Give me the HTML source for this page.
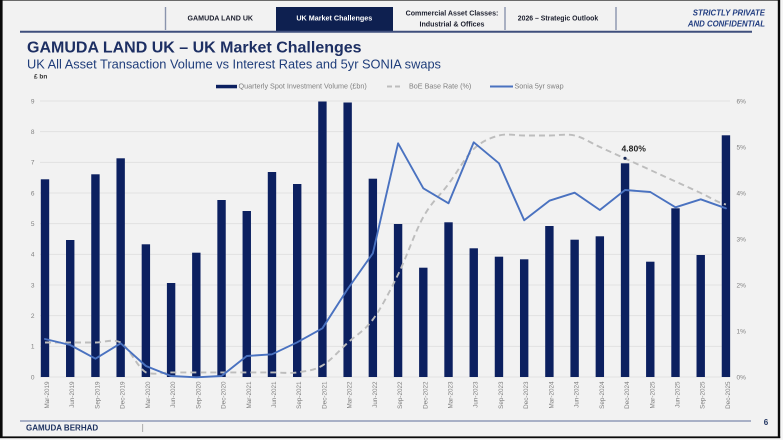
<!DOCTYPE html>
<html>
<head>
<meta charset="utf-8">
<style>
  html,body{margin:0;padding:0;background:#f4f4f4;}
  body{width:783px;height:440px;overflow:hidden;}
  svg{display:block;}
  text{font-family:"Liberation Sans",Arial,sans-serif;}
</style>
</head>
<body>
<svg width="783" height="440" viewBox="0 0 783 440" xmlns="http://www.w3.org/2000/svg">
  <!-- slide background -->
  <rect x="0" y="0" width="783" height="440" fill="#f5f5f5"/>
  <rect x="0" y="0" width="780" height="438" fill="#f2f2f2"/>

  <!-- frame -->
  <rect x="0" y="0" width="780" height="1" fill="#6a6a6a"/>
  <rect x="0" y="0" width="2.6" height="438" fill="#0a0a0a"/>
  <rect x="777.8" y="0" width="2.4" height="438" fill="#0a0a0a"/>
  <rect x="0" y="436.4" width="780.2" height="1.8" fill="#0a0a0a"/>

  <!-- header tabs -->
  <rect x="276" y="7" width="117" height="24.5" fill="#0e2050"/>
  <line x1="165.5" y1="7" x2="165.5" y2="30" stroke="#8a94ad" stroke-width="1.4"/>
  <line x1="505" y1="7" x2="505" y2="30" stroke="#8a94ad" stroke-width="1.4"/>
  <line x1="616" y1="7" x2="616" y2="30" stroke="#8a94ad" stroke-width="1.4"/>
  <line x1="20" y1="31.8" x2="752" y2="31.8" stroke="#3f4f7d" stroke-width="2"/>

  <text x="220.3" y="20.7" font-size="7.1" font-weight="bold" fill="#1c1f2e" text-anchor="middle">GAMUDA LAND UK</text>
  <text x="334.3" y="20.7" font-size="7.2" font-weight="bold" fill="#ffffff" text-anchor="middle">UK Market Challenges</text>
  <text x="452" y="15.7" font-size="7.1" font-weight="bold" fill="#1c1f2e" text-anchor="middle">Commercial Asset Classes:</text>
  <text x="452" y="26.7" font-size="7.1" font-weight="bold" fill="#1c1f2e" text-anchor="middle">Industrial &amp; Offices</text>
  <text x="558" y="20.7" font-size="6.9" font-weight="bold" fill="#1c1f2e" text-anchor="middle">2026 – Strategic Outlook</text>
  <text x="765" y="15.7" font-size="7.8" font-weight="bold" font-style="italic" fill="#203c80" text-anchor="end">STRICTLY PRIVATE</text>
  <text x="765" y="26.7" font-size="7.8" font-weight="bold" font-style="italic" fill="#203c80" text-anchor="end">AND CONFIDENTIAL</text>

  <!-- titles -->
  <text x="27" y="52.3" font-size="16" font-weight="bold" fill="#1d2f63">GAMUDA LAND UK – UK Market Challenges</text>
  <text x="27" y="68.3" font-size="12.8" fill="#1f3d7a">UK All Asset Transaction Volume vs Interest Rates and 5yr SONIA swaps</text>
  <text x="34" y="78.3" font-size="6.5" font-weight="bold" fill="#333">£ bn</text>

  <!-- legend -->
  <rect x="216" y="84.8" width="21" height="3.5" fill="#0c2060"/>
  <text x="238.5" y="88.3" font-size="7.2" fill="#808080">Quarterly Spot Investment Volume (£bn)</text>
  <line x1="387" y1="86.5" x2="402" y2="86.5" stroke="#bdbdbd" stroke-width="2" stroke-dasharray="5,3"/>
  <text x="409" y="88.3" font-size="7.2" fill="#808080">BoE Base Rate (%)</text>
  <line x1="490" y1="86.5" x2="513" y2="86.5" stroke="#4a72c0" stroke-width="2"/>
  <text x="514.5" y="88.3" font-size="7.2" fill="#808080">Sonia 5yr swap</text>

  <!-- gridlines -->
  <g stroke="#dedede" stroke-width="0.8">
    <line x1="40" y1="101" x2="730" y2="101"/>
    <line x1="40" y1="131.67" x2="730" y2="131.67"/>
    <line x1="40" y1="162.33" x2="730" y2="162.33"/>
    <line x1="40" y1="193" x2="730" y2="193"/>
    <line x1="40" y1="223.67" x2="730" y2="223.67"/>
    <line x1="40" y1="254.33" x2="730" y2="254.33"/>
    <line x1="40" y1="285" x2="730" y2="285"/>
    <line x1="40" y1="315.67" x2="730" y2="315.67"/>
    <line x1="40" y1="346.33" x2="730" y2="346.33"/>
    <line x1="40" y1="377" x2="730" y2="377"/>
  </g>

  <!-- left axis labels -->
  <g font-size="6.5" fill="#808080" text-anchor="end">
    <text x="34.5" y="379.3">0</text>
    <text x="34.5" y="348.6">1</text>
    <text x="34.5" y="318">2</text>
    <text x="34.5" y="287.3">3</text>
    <text x="34.5" y="256.6">4</text>
    <text x="34.5" y="226">5</text>
    <text x="34.5" y="195.3">6</text>
    <text x="34.5" y="164.6">7</text>
    <text x="34.5" y="134">8</text>
    <text x="34.5" y="103.3">9</text>
  </g>
  <!-- right axis labels -->
  <g font-size="6.5" fill="#808080">
    <text x="736.5" y="379.3">0%</text>
    <text x="736.5" y="333.3">1%</text>
    <text x="736.5" y="287.3">2%</text>
    <text x="736.5" y="241.3">3%</text>
    <text x="736.5" y="195.3">4%</text>
    <text x="736.5" y="149.3">5%</text>
    <text x="736.5" y="103.3">6%</text>
  </g>

  <!-- bars -->
  <g fill="#0c2060">
    <rect x="40.8" y="179.3" width="8.4" height="197.7"/>
    <rect x="66.02" y="240" width="8.4" height="137"/>
    <rect x="91.24" y="174.3" width="8.4" height="202.7"/>
    <rect x="116.46" y="158.3" width="8.4" height="218.7"/>
    <rect x="141.68" y="244.3" width="8.4" height="132.7"/>
    <rect x="166.9" y="283" width="8.4" height="94"/>
    <rect x="192.12" y="252.7" width="8.4" height="124.3"/>
    <rect x="217.34" y="200" width="8.4" height="177"/>
    <rect x="242.56" y="211" width="8.4" height="166"/>
    <rect x="267.78" y="172" width="8.4" height="205"/>
    <rect x="293" y="184" width="8.4" height="193"/>
    <rect x="318.22" y="101.5" width="8.4" height="275.5"/>
    <rect x="343.44" y="102.5" width="8.4" height="274.5"/>
    <rect x="368.66" y="178.7" width="8.4" height="198.3"/>
    <rect x="393.88" y="224" width="8.4" height="153"/>
    <rect x="419.1" y="267.7" width="8.4" height="109.3"/>
    <rect x="444.32" y="222.3" width="8.4" height="154.7"/>
    <rect x="469.54" y="248.3" width="8.4" height="128.7"/>
    <rect x="494.76" y="256.7" width="8.4" height="120.3"/>
    <rect x="519.98" y="259.3" width="8.4" height="117.7"/>
    <rect x="545.2" y="226" width="8.4" height="151"/>
    <rect x="570.42" y="239.7" width="8.4" height="137.3"/>
    <rect x="595.64" y="236.3" width="8.4" height="140.7"/>
    <rect x="620.86" y="163.3" width="8.4" height="213.7"/>
    <rect x="646.08" y="261.7" width="8.4" height="115.3"/>
    <rect x="671.3" y="208.3" width="8.4" height="168.7"/>
    <rect x="696.52" y="255" width="8.4" height="122"/>
    <rect x="721.74" y="135.3" width="8.4" height="241.7"/>
  </g>

  <!-- BoE base rate (dashed, smoothed) -->
  <path fill="none" stroke="#bdbdbd" stroke-width="1.9" stroke-dasharray="6,4"
    d="M45,342.5
       C53.41,342.5 61.81,342.5 70.22,342.5
       C78.63,342.5 87.03,342.5 95.44,342.5
       C103.85,342.5 112.25,338.5 120.66,342.5
       C129.07,347.5 137.47,367.4 145.88,372.4
       C154.29,375.4 162.69,372.4 171.1,372.4
       L196.32,372.4 L221.54,372.4 L246.76,372.4 L271.98,372.4
       C280.39,372.4 288.79,373.55 297.2,372.4
       C305.61,371.25 314.01,370.43 322.42,365.5
       C330.83,360.57 339.23,350.47 347.64,342.8
       C356.05,335.13 364.45,330.88 372.86,319.5
       C381.27,308.12 389.67,291.58 398.08,274.5
       C406.49,257.42 414.89,232.08 423.3,217
       C431.71,201.92 440.11,195.33 448.52,184
       C456.93,172.67 465.33,157.08 473.74,149
       C482.15,140.92 490.55,137.75 498.96,135.5
       C507.37,133.25 515.77,135.5 524.18,135.5
       L549.4,135.5
       C557.81,135.5 566.21,133.58 574.62,135.5
       C583.03,137.42 591.43,143.17 599.84,147
       C608.25,150.83 616.65,154.67 625.06,158.5
       C633.47,162.33 641.87,166.17 650.28,170
       C658.69,173.83 667.09,177.67 675.5,181.5
       C683.91,185.33 692.31,189.17 700.72,193
       C709.13,196.83 717.53,202.58 725.94,204.5"/>

  <!-- Sonia 5yr swap -->
  <polyline fill="none" stroke="#4a72c0" stroke-width="1.9" stroke-linejoin="round" stroke-linecap="round"
    points="45,339 70.22,345 95.44,358.7 120.66,343.3 145.88,366 171.1,376 196.32,377.3 221.54,376 246.76,356 271.98,354.3 297.2,342.3 322.42,328.3 347.64,289 372.86,253.3 398.08,143.3 423.3,188.3 448.52,203.3 473.74,142.3 498.96,163.3 524.18,220.3 549.4,200.7 574.62,192.7 599.84,210 625.06,190 650.28,192 675.5,207.3 700.72,199.3 725.94,208.3"/>

  <!-- data label -->
  <circle cx="625" cy="158.3" r="1.6" fill="#1a2a55"/>
  <text x="621.5" y="151.7" font-size="8.6" font-weight="bold" fill="#222">4.80%</text>

  <!-- x axis labels -->
  <g font-size="6.3" fill="#7f7f7f" text-anchor="end">
    <text transform="translate(49,381.5) rotate(-90)">Mar-2019</text>
    <text transform="translate(74.22,381.5) rotate(-90)">Jun-2019</text>
    <text transform="translate(99.44,381.5) rotate(-90)">Sep-2019</text>
    <text transform="translate(124.66,381.5) rotate(-90)">Dec-2019</text>
    <text transform="translate(149.88,381.5) rotate(-90)">Mar-2020</text>
    <text transform="translate(175.1,381.5) rotate(-90)">Jun-2020</text>
    <text transform="translate(200.32,381.5) rotate(-90)">Sep-2020</text>
    <text transform="translate(225.54,381.5) rotate(-90)">Dec-2020</text>
    <text transform="translate(250.76,381.5) rotate(-90)">Mar-2021</text>
    <text transform="translate(275.98,381.5) rotate(-90)">Jun-2021</text>
    <text transform="translate(301.2,381.5) rotate(-90)">Sep-2021</text>
    <text transform="translate(326.42,381.5) rotate(-90)">Dec-2021</text>
    <text transform="translate(351.64,381.5) rotate(-90)">Mar-2022</text>
    <text transform="translate(376.86,381.5) rotate(-90)">Jun-2022</text>
    <text transform="translate(402.08,381.5) rotate(-90)">Sep-2022</text>
    <text transform="translate(427.3,381.5) rotate(-90)">Dec-2022</text>
    <text transform="translate(452.52,381.5) rotate(-90)">Mar-2023</text>
    <text transform="translate(477.74,381.5) rotate(-90)">Jun-2023</text>
    <text transform="translate(502.96,381.5) rotate(-90)">Sep-2023</text>
    <text transform="translate(528.18,381.5) rotate(-90)">Dec-2023</text>
    <text transform="translate(553.4,381.5) rotate(-90)">Mar-2024</text>
    <text transform="translate(578.62,381.5) rotate(-90)">Jun-2024</text>
    <text transform="translate(603.84,381.5) rotate(-90)">Sep-2024</text>
    <text transform="translate(629.06,381.5) rotate(-90)">Dec-2024</text>
    <text transform="translate(654.28,381.5) rotate(-90)">Mar-2025</text>
    <text transform="translate(679.5,381.5) rotate(-90)">Jun-2025</text>
    <text transform="translate(704.72,381.5) rotate(-90)">Sep-2025</text>
    <text transform="translate(729.94,381.5) rotate(-90)">Dec-2025</text>
  </g>

  <!-- footer -->
  <line x1="20" y1="421" x2="751" y2="421" stroke="#8f9ab8" stroke-width="1.5"/>
  <text x="26" y="430.7" font-size="8" font-weight="bold" fill="#1f3360">GAMUDA BERHAD</text>
  <line x1="142.7" y1="424" x2="142.7" y2="432" stroke="#9a9a9a" stroke-width="0.8"/>
  <text x="766" y="425" font-size="8" font-weight="bold" fill="#1f3360" text-anchor="middle">6</text>
</svg>
</body>
</html>
